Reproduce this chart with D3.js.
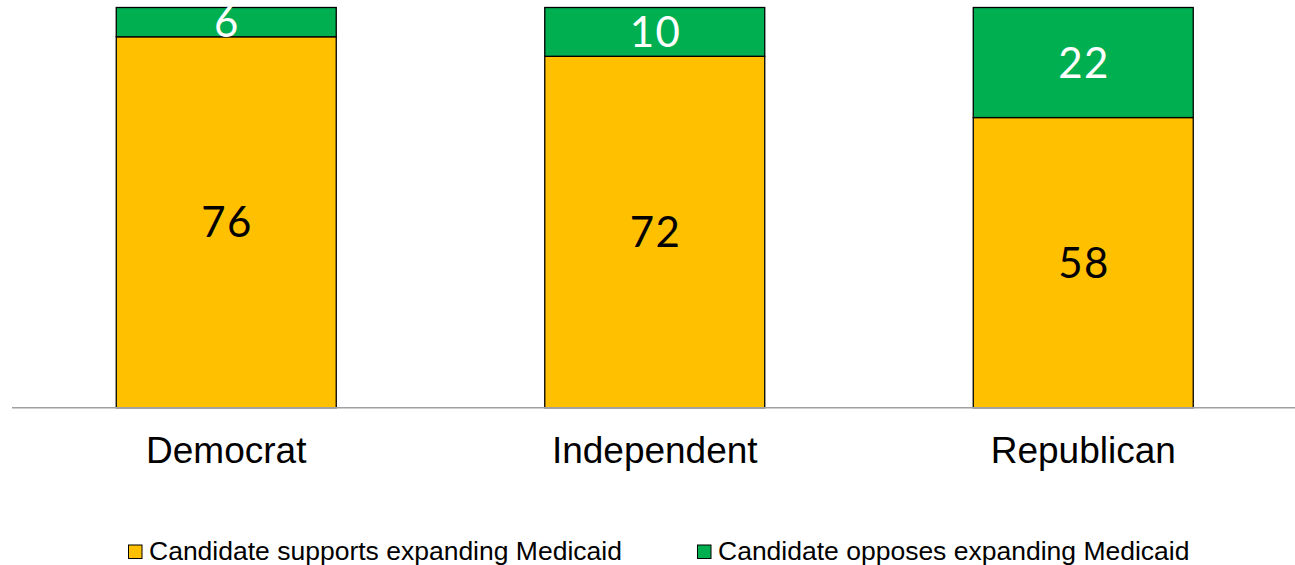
<!DOCTYPE html>
<html>
<head>
<meta charset="utf-8">
<script src="https://cdn.jsdelivr.net/npm/d3@7"></script>
<style>
  html, body { margin: 0; padding: 0; background: #ffffff; }
  svg { display: block; }
</style>
</head>
<body>
<svg id="chart" width="1295" height="565"></svg>
<script>
const categories = ["Democrat", "Independent", "Republican"];
const supports = [76, 72, 58];
const opposes = [6, 10, 22];
const seriesNames = ["Candidate supports expanding Medicaid", "Candidate opposes expanding Medicaid"];
const seriesKeys = ["supports", "opposes"];
const seriesColors = ["#FFC000", "#00B050"];
const labelColors = ["#000000", "#ffffff"];

const rows = categories.map((c, i) => ({ category: c, supports: supports[i], opposes: opposes[i] }));

const svg = d3.select("#chart");
const W = 1295;

const x = d3.scaleBand()
  .domain(categories)
  .range([12, 1297.5])
  .paddingInner(0.4866)
  .paddingOuter(0.2433);

const y = d3.scaleLinear().domain([0, 1]).range([407.7, 7.5]);

const stacked = d3.stack().keys(seriesKeys).offset(d3.stackOffsetExpand)(rows);

const valueFont = "'Century Gothic', Lato, 'Noto Sans', sans-serif";
const textFont = "'Liberation Sans', Arial, sans-serif";

const groups = svg.selectAll("g.series")
  .data(stacked)
  .join("g")
  .attr("class", "series");

groups.selectAll("rect")
  .data((s, si) => s.map(d => ({ d, si })))
  .join("rect")
  .attr("x", o => x(o.d.data.category))
  .attr("width", x.bandwidth())
  .attr("y", o => y(o.d[1]))
  .attr("height", o => y(o.d[0]) - y(o.d[1]))
  .attr("fill", o => seriesColors[o.si])
  .attr("stroke", "#000")
  .attr("stroke-width", 1.3);

// category axis
const axis = d3.axisBottom(x).tickSize(0).tickPadding(0);
const axisG = svg.append("g").attr("transform", `translate(0,${y(0)})`).call(axis);
axisG.select(".domain").remove();
axisG.selectAll(".tick text")
  .attr("font-family", textFont)
  .attr("font-size", 37)
  .attr("fill", "#000")
  .attr("y", 55)
  .attr("dy", 0);
svg.append("line")
  .attr("x1", 12).attr("x2", W)
  .attr("y1", y(0)).attr("y2", y(0))
  .attr("stroke", "#a0a0a0")
  .attr("stroke-width", 1.5);

// value labels
const vfs = 42;
groups.selectAll("text.val")
  .data((s, si) => s.map(d => ({ d, si, key: s.key })))
  .join("text")
  .attr("class", "val")
  .attr("x", o => x(o.d.data.category) + x.bandwidth() / 2 + 0.75)
  .attr("y", o => (y(o.d[0]) + y(o.d[1])) / 2 + vfs * 0.36)
  .attr("text-anchor", "middle")
  .attr("font-family", valueFont)
  .attr("font-size", vfs)
  .attr("letter-spacing", 1.5)
  .attr("fill", o => labelColors[o.si])
  .text(o => o.d.data[o.key]);

// legend
const legendX = [128, 697];
const legend = svg.append("g");
seriesNames.forEach((name, i) => {
  const g = legend.append("g").attr("transform", `translate(${legendX[i]},0)`);
  g.append("rect")
    .attr("x", 0.5).attr("y", 545)
    .attr("width", 13.5).attr("height", 13.5)
    .attr("fill", seriesColors[i])
    .attr("stroke", "#000")
    .attr("stroke-width", 1);
  g.append("text")
    .attr("x", 21).attr("y", 560)
    .attr("font-family", textFont)
    .attr("font-size", 26.5)
    .attr("fill", "#000")
    .text(name);
});
</script>
</body>
</html>
